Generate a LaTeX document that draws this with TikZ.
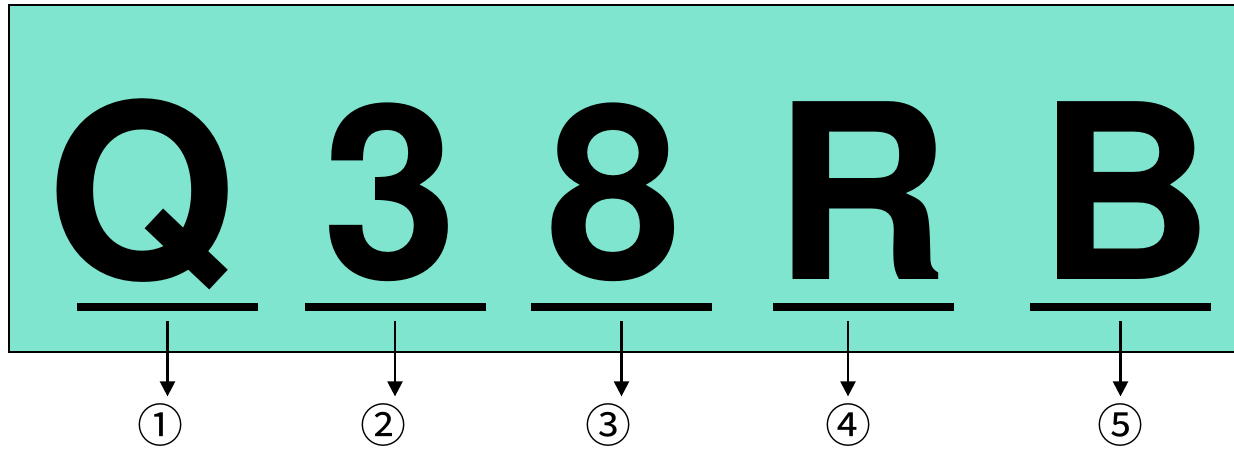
\documentclass[tikz,border=0pt]{standalone}
\usepackage{fontspec}
\setmainfont{TeX Gyre Heros}
\newfontfamily\circfont{Noto Sans CJK JP}
\usetikzlibrary{arrows.meta}
\definecolor{platebg}{RGB}{128,229,207}
\tikzset{
  plate/.style = {draw=black, fill=platebg, line width=1.6pt},
  chr/.style   = {font=\fontsize{244}{244}\selectfont\bfseries, anchor=base, inner sep=0pt},
  bar/.style   = {fill=black, minimum width=181pt, minimum height=8pt, inner sep=0pt},
  num/.style   = {font=\circfont\fontsize{46}{46}\selectfont, inner sep=0pt},
  arw/.style   = {-{Triangle[length=15pt, width=15pt]}, line width=2.3pt,
                  shorten <=10pt, shorten >=7pt},
}

\begin{document}
\begin{tikzpicture}[x=1pt, y=-1pt]
\useasboundingbox (0,0) rectangle (1234,448);
\clip (0,0) rectangle (1234,448);
\draw[plate] (9,5) rectangle (1260,352);
% characters
\node[chr] (c1) at (141,279)  {Q};
\node[chr] (c2) at (390,279)  {3};
\node[chr] (c3) at (614,279)  {8};
\node[chr] (c4) at (862,279)  {R};
\node[chr] (c5) at (1126,279) {B};
% underlines
\node[bar] (u1) at (167.5,307)  {};
\node[bar] (u2) at (395,307)    {};
\node[bar] (u3) at (621.5,307)  {};
\node[bar] (u4) at (863.5,307)  {};
\node[bar] (u5) at (1120.5,307) {};
% position numbers
\node[num] (n1) at (160,425)  {①};
\node[num] (n2) at (383,425)  {②};
\node[num] (n3) at (608,425)  {③};
\node[num] (n4) at (848,425)  {④};
\node[num] (n5) at (1120,425) {⑤};
\draw[arw] (u1.south) -- (u1.south |- n1.north);
\draw[arw] (u2.south) -- (u2.south |- n2.north);
\draw[arw] (u3.south) -- (u3.south |- n3.north);
\draw[arw] (n4 |- u4.south) -- (n4.north);
\draw[arw] (u5.south) -- (u5.south |- n5.north);
\end{tikzpicture}
\end{document}
